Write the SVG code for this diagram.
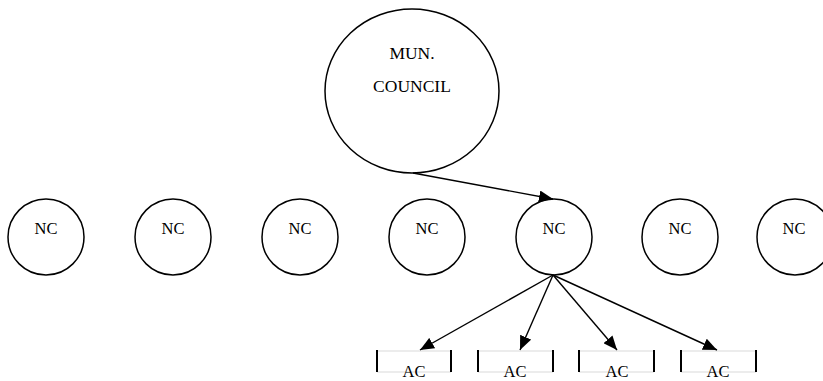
<svg xmlns="http://www.w3.org/2000/svg" width="823" height="381" viewBox="0 0 823 381">
  <style>
    .node { fill: none; stroke: #000; stroke-width: 1.5; }
    .lbl { font-family: "Liberation Serif", "Times New Roman", serif; fill: #000; text-anchor: middle; }
    .nc { font-size: 16.5px; }
    .edge { stroke: #000; stroke-width: 1.4; fill: none; marker-end: url(#arrow); }
    .tick { stroke: #000; stroke-width: 2; }
    .rule { stroke: #d9d9d9; stroke-width: 1; }
  </style>
  <defs>
    <marker id="arrow" viewBox="0 0 14 12" refX="14" refY="6" markerWidth="14" markerHeight="12" markerUnits="userSpaceOnUse" orient="auto">
      <path d="M0,0 L14,6 L0,12 Z" fill="#000"/>
    </marker>
  </defs>
  <rect width="823" height="381" fill="#fff"/>

  <!-- municipal council -->
  <g id="mun-council">
    <ellipse class="node" cx="412" cy="91" rx="87" ry="82"/>
    <text class="lbl" x="412" y="59" font-size="17.5">MUN.</text>
    <text class="lbl" x="412" y="92" font-size="17.5">COUNCIL</text>
  </g>

  <!-- neighbourhood councils -->
  <g id="nc1"><circle class="node" cx="46" cy="237" r="38"/><text class="lbl nc" x="46" y="234">NC</text></g>
  <g id="nc2"><circle class="node" cx="173" cy="237" r="38"/><text class="lbl nc" x="173" y="234">NC</text></g>
  <g id="nc3"><circle class="node" cx="300" cy="237" r="38"/><text class="lbl nc" x="300" y="234">NC</text></g>
  <g id="nc4"><circle class="node" cx="427" cy="237" r="38"/><text class="lbl nc" x="427" y="234">NC</text></g>
  <g id="nc5"><circle class="node" cx="554" cy="237" r="38"/><text class="lbl nc" x="554" y="234">NC</text></g>
  <g id="nc6"><circle class="node" cx="680" cy="237" r="38"/><text class="lbl nc" x="680" y="234">NC</text></g>
  <g id="nc7"><circle class="node" cx="795" cy="237" r="38"/><text class="lbl nc" x="794" y="234">NC</text></g>

  <!-- area committees -->
  <g id="ac1">
    <line class="rule" x1="377" y1="351" x2="451" y2="351"/><line class="rule" x1="377" y1="372" x2="451" y2="372"/>
    <line class="tick" x1="377" y1="350" x2="377" y2="372"/><line class="tick" x1="451" y1="350" x2="451" y2="372"/>
    <text class="lbl nc" x="414" y="377">AC</text>
  </g>
  <g id="ac2">
    <line class="rule" x1="478" y1="351" x2="553" y2="351"/><line class="rule" x1="478" y1="372" x2="553" y2="372"/>
    <line class="tick" x1="478" y1="350" x2="478" y2="372"/><line class="tick" x1="553" y1="350" x2="553" y2="372"/>
    <text class="lbl nc" x="515" y="377">AC</text>
  </g>
  <g id="ac3">
    <line class="rule" x1="579" y1="351" x2="654" y2="351"/><line class="rule" x1="579" y1="372" x2="654" y2="372"/>
    <line class="tick" x1="579" y1="350" x2="579" y2="372"/><line class="tick" x1="654" y1="350" x2="654" y2="372"/>
    <text class="lbl nc" x="617" y="377">AC</text>
  </g>
  <g id="ac4">
    <line class="rule" x1="681" y1="351" x2="756" y2="351"/><line class="rule" x1="681" y1="372" x2="756" y2="372"/>
    <line class="tick" x1="681" y1="350" x2="681" y2="372"/><line class="tick" x1="756" y1="350" x2="756" y2="372"/>
    <text class="lbl nc" x="718" y="377">AC</text>
  </g>

  <!-- connectors -->
  <g id="connectors">
    <line class="edge" x1="413" y1="173" x2="553" y2="199"/>
    <line class="edge" x1="553" y1="275" x2="420" y2="350"/>
    <line class="edge" x1="553" y1="275" x2="520" y2="350"/>
    <line class="edge" x1="553" y1="275" x2="617" y2="350"/>
    <line class="edge" x1="553" y1="275" x2="717" y2="350"/>
  </g>
</svg>
